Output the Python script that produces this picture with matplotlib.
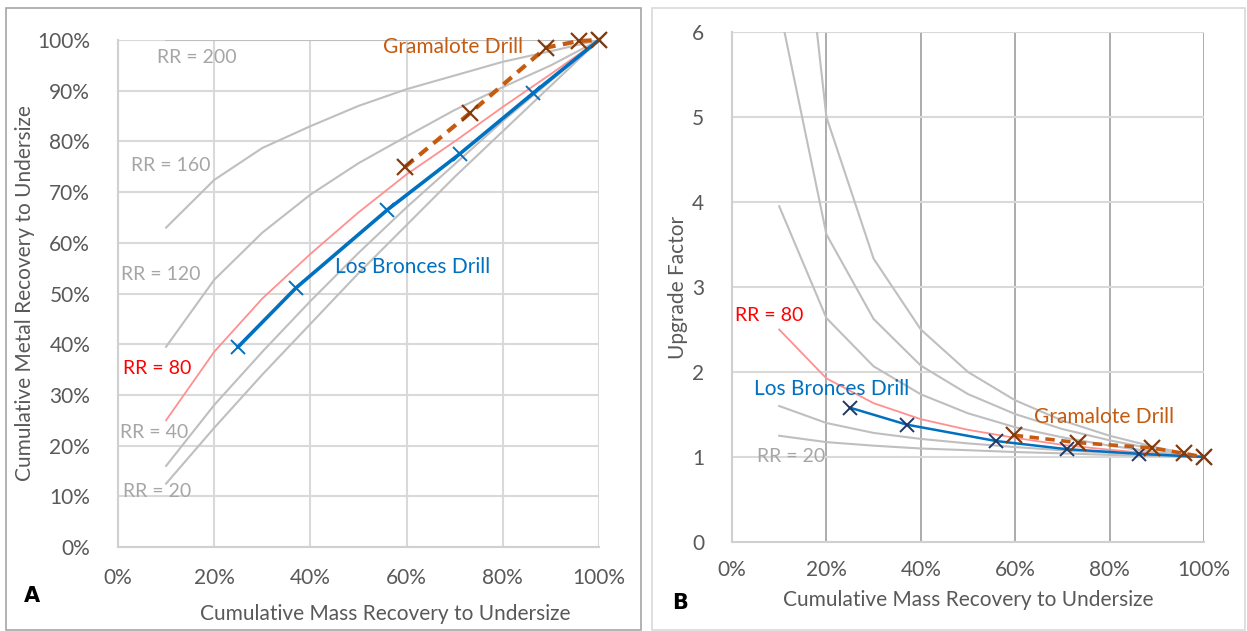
import numpy as np
import matplotlib.pyplot as plt
from matplotlib.patches import Rectangle
from matplotlib.ticker import PercentFormatter

plt.rcParams['font.family'] = ['Lato', 'DejaVu Sans']

# RR family curves (cumulative mass vs metal recovery to undersize)
mass_rr = [0.1, 0.2, 0.3, 0.4, 0.5, 0.6, 0.7, 0.8, 0.9, 1.0]
rr20 = [0.125, 0.235, 0.34, 0.44, 0.54, 0.635, 0.73, 0.82, 0.91, 1.0]
rr40 = [0.16, 0.28, 0.385, 0.485, 0.58, 0.67, 0.755, 0.84, 0.92, 1.0]
rr80 = [0.25, 0.385, 0.49, 0.578, 0.66, 0.735, 0.80, 0.868, 0.933, 1.0]
rr120 = [0.395, 0.527, 0.62, 0.695, 0.757, 0.81, 0.862, 0.907, 0.95, 1.0]
rr160 = [0.63, 0.724, 0.787, 0.83, 0.87, 0.903, 0.93, 0.957, 0.978, 1.0]
rr200 = [1.0, 1.0, 1.0, 1.0, 1.0, 1.0, 1.0, 1.0, 1.0, 1.0]

# drill samples
lb_mass = [0.25, 0.37, 0.56, 0.71, 0.863, 1.0]
lb_rec = [0.395, 0.511, 0.665, 0.775, 0.895, 1.0]
gr_mass = [0.597, 0.732, 0.89, 0.958, 1.0]
gr_rec = [0.75, 0.856, 0.985, 0.998, 1.0]

pct_ticks = [0, 0.2, 0.4, 0.6, 0.8, 1.0]
rec_ticks = [0, 0.1, 0.2, 0.3, 0.4, 0.5, 0.6, 0.7, 0.8, 0.9, 1.0]
uf_ticks = [0, 1, 2, 3, 4, 5, 6]

GRAY = '#bfbfbf'
RED = '#ff9090'
BLUE = '#0070c0'
ORANGE = '#c55a11'
BROWN = '#843c0c'
NAVY = '#203864'
TXT = '#595959'
LBL = '#a6a6a6'
FS = 15

W, H = 1247, 631
fig = plt.figure(figsize=(W / 100, H / 100), dpi=100)

# panel frames
fig.patches.append(Rectangle((6 / W, 1 - 630 / H), 635 / W, 622 / H, transform=fig.transFigure,
                             fill=False, edgecolor='#a6a6a6', lw=1.2))
fig.patches.append(Rectangle((652 / W, 1 - 630 / H), 593 / W, 622 / H, transform=fig.transFigure,
                             fill=False, edgecolor='#d9d9d9', lw=1.2))

gray_curves = [rr20, rr40, rr120, rr160, rr200]

# ---------- panel A ----------
axA = fig.add_axes([118 / W, 1 - 547 / H, 481 / W, 507 / H])
for c in gray_curves:
    axA.plot(mass_rr, c, color=GRAY, lw=1.5, zorder=2)
axA.plot(mass_rr, rr80, color=RED, lw=1.3, zorder=3)
axA.plot(lb_mass, lb_rec, color=BLUE, lw=2.6, marker='x', ms=10, mew=1.4, zorder=4, clip_on=False)
axA.plot(gr_mass, gr_rec, color=ORANGE, lw=3, ls=(0, (2.6, 1.8)), zorder=5, clip_on=False)
axA.plot(gr_mass, gr_rec, ls='none', marker='x', ms=11, mew=1.6, color=BROWN, zorder=6, clip_on=False)

axA.set_xlim(0, 1)
axA.set_ylim(0, 1)
axA.set_xticks(pct_ticks)
axA.set_yticks(rec_ticks)
axA.xaxis.set_major_formatter(PercentFormatter(1.0, decimals=0))
axA.yaxis.set_major_formatter(PercentFormatter(1.0, decimals=0))
axA.grid(True, color='#d9d9d9', lw=1.5)
axA.set_axisbelow(True)
for s in ['top', 'right']:
    axA.spines[s].set_visible(False)
for s in ['left', 'bottom']:
    axA.spines[s].set_color('#d0d0d0')
    axA.spines[s].set_linewidth(1.5)
axA.tick_params(length=0, labelsize=FS, labelcolor=TXT)
axA.tick_params(axis='x', pad=15)
axA.tick_params(axis='y', pad=20)
axA.set_xlabel('Cumulative Mass Recovery to Undersize', fontsize=FS, color=TXT)
axA.xaxis.set_label_coords(0.555, -0.112)
axA.set_ylabel('Cumulative Metal Recovery to Undersize', fontsize=FS, color=TXT)
axA.yaxis.set_label_coords(-0.172, 0.5)

axA.text(0.164, 0.966, 'RR = 200', color=LBL, fontsize=14, ha='center', va='center')
axA.text(0.11, 0.752, 'RR = 160', color=LBL, fontsize=14, ha='center', va='center')
axA.text(0.089, 0.537, 'RR = 120', color=LBL, fontsize=14, ha='center', va='center')
axA.text(0.081, 0.353, 'RR = 80', color='#ff0000', fontsize=14, ha='center', va='center')
axA.text(0.075, 0.225, 'RR = 40', color=LBL, fontsize=14, ha='center', va='center')
axA.text(0.081, 0.109, 'RR = 20', color=LBL, fontsize=14, ha='center', va='center')
axA.text(0.696, 0.986, 'Gramalote Drill', color=ORANGE, fontsize=FS, ha='center', va='center')
axA.text(0.613, 0.552, 'Los Bronces Drill', color=BLUE, fontsize=FS, ha='center', va='center')

# ---------- panel B ----------
axB = fig.add_axes([732 / W, 1 - 542 / H, 472 / W, 510 / H])
mass_arr = np.array(mass_rr)
for c in gray_curves:
    axB.plot(mass_arr, np.array(c) / mass_arr, color=GRAY, lw=1.5, zorder=2)
axB.plot(mass_arr, np.array(rr80) / mass_arr, color=RED, lw=1.3, zorder=3)
lb_uf = np.array(lb_rec) / np.array(lb_mass)
gr_uf = np.array(gr_rec) / np.array(gr_mass)
axB.plot(lb_mass, lb_uf, color=BLUE, lw=1.8, zorder=4, clip_on=False)
axB.plot(lb_mass, lb_uf, ls='none', marker='x', ms=10, mew=1.4, color=NAVY, zorder=5, clip_on=False)
axB.plot(gr_mass, gr_uf, color=ORANGE, lw=2.6, ls=(0, (2.6, 1.8)), zorder=6, clip_on=False)
axB.plot(gr_mass, gr_uf, ls='none', marker='x', ms=11, mew=1.6, color=BROWN, zorder=7, clip_on=False)

axB.set_xlim(0, 1)
axB.set_ylim(0, 6)
axB.set_xticks(pct_ticks)
axB.set_yticks(uf_ticks)
axB.xaxis.set_major_formatter(PercentFormatter(1.0, decimals=0))
axB.grid(True, axis='x', color='#a6a6a6', lw=1.3)
axB.grid(True, axis='y', color='#d9d9d9', lw=1.5)
axB.set_axisbelow(True)
axB.spines['top'].set_visible(False)
axB.spines['right'].set_visible(False)
for s in ['left', 'bottom']:
    axB.spines[s].set_color('#d0d0d0')
    axB.spines[s].set_linewidth(1.5)
axB.tick_params(length=0, labelsize=FS, labelcolor=TXT)
axB.tick_params(axis='x', pad=13)
axB.tick_params(axis='y', pad=20)
axB.set_xlabel('Cumulative Mass Recovery to Undersize', fontsize=FS, color=TXT)
axB.xaxis.set_label_coords(0.5, -0.094)
axB.set_ylabel('Upgrade Factor', fontsize=FS, color=TXT)
axB.yaxis.set_label_coords(-0.094, 0.5)

axB.text(0.078, 2.67, 'RR = 80', color='#ff0000', fontsize=14, ha='center', va='center')
axB.text(0.125, 1.0, 'RR = 20', color=LBL, fontsize=14, ha='center', va='center')
axB.text(0.212, 1.8, 'Los Bronces Drill', color=BLUE, fontsize=FS, ha='center', va='center')
axB.text(0.788, 1.47, 'Gramalote Drill', color=ORANGE, fontsize=FS, ha='center', va='center')

fig.text(32 / W, 1 - 596 / H, 'A', fontsize=15, fontweight='bold', family='DejaVu Sans',
         ha='center', va='center')
fig.text(680 / W, 1 - 603 / H, 'B', fontsize=15, fontweight='bold', family='DejaVu Sans',
         ha='center', va='center')

fig.savefig('out.png', dpi=100)
